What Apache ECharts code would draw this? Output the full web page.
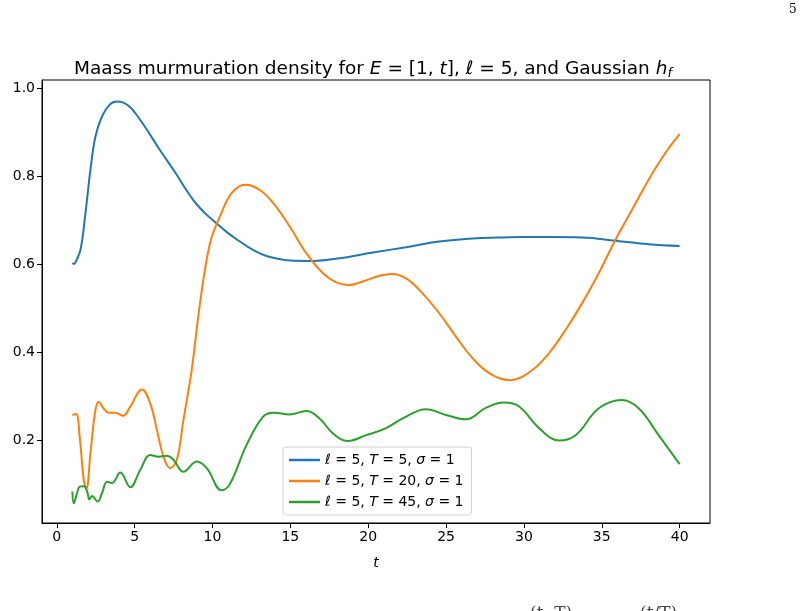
<!DOCTYPE html>
<html>
<head>
<meta charset="utf-8">
<script src="https://cdn.jsdelivr.net/npm/echarts@6/dist/echarts.min.js"></script>
<style>
html,body{margin:0;padding:0;background:#fff;}
#c{width:804px;height:611px;}
</style>
</head>
<body>
<div id="c"></div>
<script>
// ---- data (t, density) ----
const seriesNames = ['l5_T5', 'l5_T20', 'l5_T45'];
const legendLabels = [
  '{i|ℓ} = 5, {i|T} = 5, {i|σ} = 1',
  '{i|ℓ} = 5, {i|T} = 20, {i|σ} = 1',
  '{i|ℓ} = 5, {i|T} = 45, {i|σ} = 1'
];
const xTicks = [0, 5, 10, 15, 20, 25, 30, 35, 40];
const yTicks = [0.2, 0.4, 0.6, 0.8, 1.0];

const blueT5 = [
  [1.0,0.602],[1.09,0.600],[1.2,0.604],[1.52,0.632],[1.84,0.715],[2.16,0.814],[2.48,0.889],
  [2.9,0.935],[3.4,0.962],[3.87,0.969],[4.3,0.966],[4.72,0.956],[5.2,0.935],[5.79,0.905],
  [6.6,0.860],[7.49,0.814],[8.77,0.745],[9.5,0.716],[10.27,0.692],[11.0,0.670],[11.76,0.651],
  [12.6,0.632],[13.47,0.618],[14.96,0.608],[16.45,0.607],[18.16,0.613],[20.3,0.626],
  [22.43,0.638],[24.56,0.651],[26.7,0.658],[28.4,0.660],[30.0,0.661],[31.6,0.661],
  [33.74,0.660],[35.88,0.653],[38.0,0.645],[40.0,0.641]
];
const orangeT20 = [
  [1.0,0.257],[1.24,0.259],[1.47,0.207],[1.73,0.109],[1.9,0.090],[2.16,0.170],[2.48,0.268],
  [2.69,0.287],[3.0,0.272],[3.33,0.262],[3.76,0.262],[4.25,0.255],[4.72,0.276],[5.47,0.315],
  [6.0,0.283],[6.43,0.223],[6.85,0.162],[7.28,0.136],[7.71,0.155],[8.13,0.245],[8.67,0.361],
  [9.2,0.511],[9.84,0.647],[10.48,0.708],[11.23,0.761],[12.1,0.780],[13.04,0.768],[13.9,0.738],
  [14.96,0.685],[16.03,0.624],[17.09,0.579],[17.95,0.558],[18.7,0.552],[19.65,0.560],
  [20.72,0.573],[21.57,0.577],[22.43,0.567],[23.28,0.541],[24.56,0.488],[25.63,0.435],
  [26.7,0.386],[27.77,0.352],[29.1,0.336],[30.54,0.359],[31.6,0.397],[32.67,0.45],
  [33.74,0.511],[34.8,0.579],[35.88,0.655],[36.94,0.723],[38.0,0.791],[39.08,0.852],[40.0,0.895]
];
const greenT45 = [
  [1.0,0.083],[1.09,0.056],[1.3,0.079],[1.47,0.094],[1.73,0.095],[1.95,0.083],[2.09,0.065],
  [2.26,0.073],[2.63,0.060],[2.9,0.079],[3.23,0.105],[3.55,0.102],[4.08,0.126],[4.72,0.0925],
  [5.36,0.132],[6.0,0.166],[6.53,0.162],[7.07,0.164],[7.49,0.155],[8.13,0.128],[8.99,0.151],
  [9.63,0.136],[10.59,0.086],[11.12,0.100],[12.19,0.189],[13.25,0.253],[13.9,0.262],
  [14.96,0.258],[16.03,0.266],[16.88,0.249],[17.73,0.215],[18.69,0.198],[19.87,0.211],
  [21.15,0.227],[22.22,0.249],[23.71,0.270],[24.99,0.257],[26.27,0.247],[27.55,0.273],
  [28.73,0.285],[29.69,0.276],[30.97,0.227],[32.25,0.199],[33.32,0.211],[34.81,0.272],
  [36.3,0.291],[37.37,0.272],[38.65,0.211],[40.0,0.145]
];
const seriesData = [blueT5, orangeT20, greenT45];
const colors = ['#1f77b4', '#ff7f0e', '#2ca02c'];

const FONT = 'DejaVu Sans';
const chart = echarts.init(document.getElementById('c'), null, {renderer: 'canvas'});

const labelMap = {};
seriesNames.forEach((n, i) => labelMap[n] = legendLabels[i]);

const option = {
  animation: false,
  backgroundColor: '#fff',
  title: {
    text: 'Maass murmuration density for {i|E} = [1, {i|t}], {i|ℓ} = 5, and Gaussian {i|h}{s|f}',
    left: 69, top: 53,
    textStyle: {
      fontFamily: FONT, fontSize: 18.5, fontWeight: 'normal', color: '#000',
      rich: {
        i: {fontFamily: FONT, fontSize: 18.5, fontStyle: 'italic', color: '#000'},
        s: {fontFamily: FONT, fontSize: 13, fontStyle: 'italic', color: '#000', verticalAlign: 'bottom', padding: [9, 0, 0, 0]}
      }
    }
  },
  grid: {left: 42, right: 94, top: 80, bottom: 88, show: true, borderColor: '#000', borderWidth: 1, backgroundColor: 'transparent'},
  legend: {
    orient: 'vertical',
    left: 283, top: 447,
    padding: [6, 8, 6, 6],
    itemGap: 7,
    itemWidth: 31, itemHeight: 2.5,
    icon: 'rect',
    backgroundColor: '#fff',
    borderColor: '#d0d0d0', borderWidth: 1, borderRadius: 3,
    data: seriesNames,
    formatter: name => labelMap[name],
    textStyle: {
      fontFamily: FONT, fontSize: 14, color: '#000',
      rich: {i: {fontFamily: FONT, fontSize: 14, fontStyle: 'italic', color: '#000'}}
    }
  },
  xAxis: {
    type: 'value', min: -0.95, max: 41.95,
    name: 't', nameLocation: 'middle', nameGap: 33,
    nameTextStyle: {fontFamily: FONT, fontSize: 14, fontStyle: 'italic', color: '#000'},
    axisLine: {show: true, onZero: false, lineStyle: {color: '#000', width: 1}},
    axisTick: {show: true, length: 5, lineStyle: {color: '#000'}, customValues: xTicks},
    axisLabel: {fontFamily: FONT, fontSize: 14, color: '#000', margin: 7, customValues: xTicks},
    splitLine: {show: false}
  },
  yAxis: {
    type: 'value', min: 0.0114, max: 1.018,
    axisLine: {show: true, onZero: false, lineStyle: {color: '#000', width: 1}},
    axisTick: {show: true, length: 5, lineStyle: {color: '#000'}, customValues: yTicks},
    axisLabel: {fontFamily: FONT, fontSize: 14, color: '#000', margin: 7, customValues: yTicks,
      formatter: v => v.toFixed(1)},
    splitLine: {show: false}
  },
  series: seriesNames.map((n, i) => ({
    name: n, type: 'line', data: seriesData[i], smooth: 0.4, showSymbol: false, symbol: 'none',
    lineStyle: {color: colors[i], width: 2}, itemStyle: {color: colors[i]}, z: 2 + i
  })),
  graphic: [
    {type: 'text', left: 789, top: 4, style: {text: '5', fontFamily: 'DejaVu Serif', fontSize: 12, fill: '#000'}},
    {type: 'text', left: 530, top: 605, style: {text: '(t, T)', fontFamily: 'DejaVu Serif', fontSize: 17, fill: '#444'}},
    {type: 'text', left: 640, top: 605, style: {text: '(t/T)', fontFamily: 'DejaVu Serif', fontSize: 17, fill: '#444'}}
  ]
};
chart.setOption(option);
</script>
</body>
</html>
